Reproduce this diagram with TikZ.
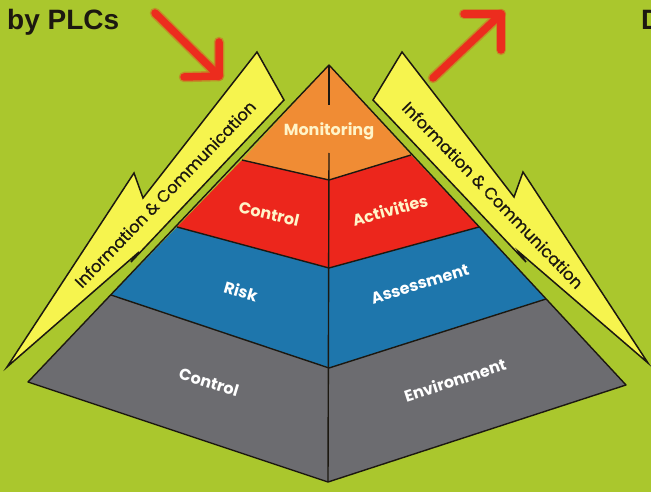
\documentclass[tikz,border=0pt]{standalone}
\usepackage{fontspec}
\setmainfont{Liberation Sans}
\newfontfamily\gothic{Poppins}
\newfontfamily\gothicm[FakeBold=0.6]{Poppins}
\definecolor{bgc}{RGB}{170,199,45}
\definecolor{orng}{RGB}{240,140,52}
\definecolor{redl}{RGB}{236,38,28}
\definecolor{bluel}{RGB}{30,118,172}
\definecolor{grayl}{RGB}{108,108,112}
\definecolor{bolt}{RGB}{246,244,78}
\definecolor{arrred}{RGB}{236,44,30}
\definecolor{arrglow}{RGB}{205,110,35}
\definecolor{ink}{RGB}{28,24,16}
\definecolor{paleyel}{RGB}{255,244,200}
\begin{document}
\begin{tikzpicture}[x=1pt,y=-1pt,
  edge/.style={draw=ink,line width=1.4pt,line join=round},
  boltshape/.style={fill=bolt,draw=ink,line width=1.5pt,line join=miter},
  bolttext/.style={font=\gothicm\fontsize{16.5}{16.5}\selectfont,text=ink,inner sep=0pt},
  lab/.style={font=\gothic\bfseries\fontsize{16}{16}\selectfont,text=white,inner sep=0pt},
  labp/.style={lab,text=paleyel},
  glow/.style={draw=arrglow,line width=10.5pt,line cap=round,line join=round,opacity=0.6},
  arr/.style={draw=arrred,line width=7.5pt,line cap=round,line join=round},
  title/.style={font=\bfseries\fontsize{28}{28}\selectfont,text=ink,inner sep=0pt,anchor=base west}]
\useasboundingbox (0,0) rectangle (651,492);
\fill[bgc] (0,0) rectangle (651,492);
% title texts
\node[title] (t1) at (7,30) {by PLCs};
\begin{scope}
\clip (0,0) rectangle (651,492);
\node[title] (t2) at (641,30) {D};
\end{scope}
% pyramid coordinates
\coordinate (A) at (329,65);
\coordinate (L1l) at (242,160); \coordinate (L1c) at (329,180); \coordinate (L1r) at (411,155);
\coordinate (L2l) at (177,227); \coordinate (L2c) at (329,268); \coordinate (L2r) at (479,227);
\coordinate (L3l) at (111,295); \coordinate (L3c) at (329,368); \coordinate (L3r) at (546,299);
\coordinate (Bl) at (28,382); \coordinate (Bc) at (328,482); \coordinate (Br) at (626,385);
\coordinate (M1) at (329,105); \coordinate (M2) at (329,153);
% fills
\fill[orng] (A) -- (L1l) -- (L1c) -- (L1r) -- cycle;
\fill[redl] (L1l) -- (L1c) -- (L1r) -- (L2r) -- (L2c) -- (L2l) -- cycle;
\fill[bluel] (L2l) -- (L2c) -- (L2r) -- (L3r) -- (L3c) -- (L3l) -- cycle;
\fill[grayl] (L3l) -- (L3c) -- (L3r) -- (Br) -- (Bc) -- (Bl) -- cycle;
% outlines
\draw[edge] (A) -- (Bl) -- (Bc) -- (Br) -- cycle;
\draw[edge] (L1l) -- (L1c) -- (L1r);
\draw[edge] (L2l) -- (L2c) -- (L2r);
\draw[edge] (L3l) -- (L3c) -- (L3r);
\draw[edge] (A) -- (M1);
\draw[edge] (M2) -- (Bc);
% labels
\node[labp] (mon) at (329,131) {Monitoring};
\node[labp,rotate=-13] (ctl1) at (269,214) {Control};
\node[labp,rotate=15] (act) at (390,210) {Activities};
\node[lab,rotate=-16] (risk) at (241,291) {Risk};
\node[lab,rotate=17] (ass) at (420,284) {Assessment};
\node[lab,rotate=-17] (ctl2) at (209,382) {Control};
\node[lab,rotate=18] (env) at (455,380) {Environment};
% left bolt
\coordinate (b1a) at (257,52); \coordinate (b1b) at (284,100);
\coordinate (b1c) at (131,262); \coordinate (b1d) at (139,252);
\coordinate (b1p) at (7,367);
\coordinate (b1e) at (134,173); \coordinate (b1f) at (143,198);
\draw[boltshape] (b1a) -- (b1b) -- (b1c) -- (b1d) -- (b1p) -- (b1e) -- (b1f) -- cycle;
\node[bolttext,rotate=46] (bt1) at (165,194) {Information \& Communication};
% right bolt
\coordinate (b2a) at (402,52); \coordinate (b2b) at (373,100);
\coordinate (b2c) at (526,262); \coordinate (b2d) at (519,252);
\coordinate (b2p) at (648,363);
\coordinate (b2e) at (523,172); \coordinate (b2f) at (514,197);
\draw[boltshape] (b2a) -- (b2b) -- (b2c) -- (b2d) -- (b2p) -- (b2e) -- (b2f) -- cycle;
\node[bolttext,rotate=-46] (bt2) at (493,195) {Information \& Communication};
% red arrows
\coordinate (r1s) at (155,13); \coordinate (r1t) at (219,76);
\coordinate (r1a) at (219,42); \coordinate (r1b) at (184,77);
\coordinate (r2s) at (433,78); \coordinate (r2t) at (501,14);
\coordinate (r2a) at (464,14); \coordinate (r2b) at (501,50);
\draw[glow] (r1s) -- (r1t); \draw[glow] (r1a) -- (r1t) -- (r1b);
\draw[glow] (r2s) -- (r2t); \draw[glow] (r2a) -- (r2t) -- (r2b);
\draw[arr] (r1s) -- (r1t); \draw[arr] (r1a) -- (r1t) -- (r1b);
\draw[arr] (r2s) -- (r2t); \draw[arr] (r2a) -- (r2t) -- (r2b);
\end{tikzpicture}
\end{document}
